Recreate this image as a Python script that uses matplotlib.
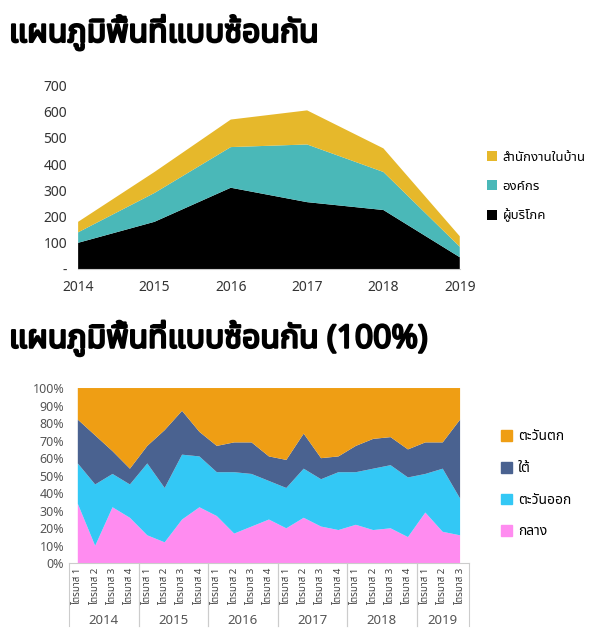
import matplotlib
matplotlib.use("Agg")
import matplotlib.pyplot as plt
import numpy as np
from matplotlib.patches import Patch
import matplotlib.patheffects as pe

plt.rcParams['font.family'] = ['Noto Sans Thai', 'Tlwg Typist', 'Loma', 'Noto Sans', 'DejaVu Sans']

years = [2014, 2015, 2016, 2017, 2018, 2019]
consumer = [100, 180, 310, 255, 225, 45]
org = [40, 110, 155, 220, 145, 40]
home = [40, 80, 105, 130, 90, 40]
top_names = ['ผู้บริโภค', 'องค์กร', 'สำนักงานในบ้าน']
top_colors = ['#000000', '#4ab8b8', '#e6b82b']

quarters = ['ไตรมาส 1', 'ไตรมาส 2', 'ไตรมาส 3', 'ไตรมาส 4']
q_years = ['2014', '2015', '2016', '2017', '2018', '2019']
q_counts = [4, 4, 4, 4, 4, 3]
central = [34, 10, 32, 26, 16, 12, 25, 32, 27, 17, 21, 25, 20, 26, 21, 19, 22, 19, 20, 15, 29, 18, 16]
east = [23, 35, 19, 19, 41, 31, 37, 29, 25, 35, 30, 22, 23, 28, 27, 33, 30, 35, 36, 34, 22, 36, 21]
south = [25, 28, 13, 9, 10, 33, 25, 14, 15, 17, 18, 14, 16, 20, 12, 9, 15, 17, 16, 16, 18, 15, 45]
west = [18, 27, 36, 46, 33, 24, 13, 25, 33, 31, 31, 39, 41, 26, 40, 39, 33, 29, 28, 35, 31, 31, 18]
bot_names = ['กลาง', 'ตะวันออก', 'ใต้', 'ตะวันตก']
bot_colors = ['#ff8cf0', '#33c8f5', '#4a6290', '#ef9e14']

fig = plt.figure(figsize=(6.01, 6.33), dpi=100)
bold = [pe.withStroke(linewidth=1.6, foreground='black')]
fig.text(0.015, 0.948, 'แผนภูมิพื้นที่แบบซ้อนกัน', fontsize=23, va='center', path_effects=bold)
fig.text(0.015, 0.465, 'แผนภูมิพื้นที่แบบซ้อนกัน (100%)', fontsize=23, va='center', path_effects=bold)

ax1 = fig.add_axes([0.13, 0.575, 0.635, 0.29])
ax1.stackplot(years, consumer, org, home, colors=top_colors, labels=top_names)
ax1.set_xlim(2014, 2019)
ax1.set_ylim(0, 700)
ax1.set_yticks(range(0, 701, 100))
ax1.set_yticklabels(['-'] + [str(v) for v in range(100, 701, 100)])
ax1.set_xticks(years)
for s in ['top', 'right', 'left']:
    ax1.spines[s].set_visible(False)
ax1.spines['bottom'].set_color('#cccccc')
ax1.tick_params(length=0, labelsize=10, colors='#333333', pad=8)
h, l = ax1.get_legend_handles_labels()
ax1.legend(h[::-1], l[::-1], loc='center left', bbox_to_anchor=(1.04, 0.45), frameon=False,
           fontsize=9.5, handlelength=0.8, handleheight=0.8, labelspacing=1.2, handletextpad=0.4)

ax2 = fig.add_axes([0.115, 0.11, 0.665, 0.277])
x = np.arange(len(central))
ax2.stackplot(x, central, east, south, west, colors=bot_colors)
ax2.set_xlim(-0.5, len(x) - 0.5)
ax2.set_ylim(0, 100)
ax2.set_yticks(range(0, 101, 10))
ax2.set_yticklabels([f'{v}%' for v in range(0, 101, 10)])
labels = []
for c in q_counts:
    labels += quarters[:c]
ax2.set_xticks(x)
ax2.set_xticklabels(labels, rotation=90, fontsize=7, color='#444444')
ax2.tick_params(axis='y', length=0, labelsize=9, colors='#555555')
ax2.tick_params(axis='x', length=0, pad=3)
for s in ['top', 'right', 'left']:
    ax2.spines[s].set_visible(False)
ax2.spines['bottom'].set_color('#cccccc')
start = 0
for yr, c in zip(q_years, q_counts):
    ax2.annotate(yr, xy=((start + start + c - 1) / 2, 0), xycoords=('data', 'axes fraction'),
                 xytext=(0, -41), textcoords='offset points', ha='center', va='center',
                 fontsize=9.5, color='#555555')
    for b in [start - 0.5, start + c - 0.5]:
        ax2.plot([b, b], [0, -0.36], color='#cccccc', lw=0.8, transform=ax2.get_xaxis_transform(), clip_on=False)
    start += c
ax2.legend([Patch(color=c) for c in bot_colors[::-1]], bot_names[::-1], loc='center left',
           bbox_to_anchor=(1.05, 0.45), frameon=False, fontsize=10, handlelength=0.8,
           handleheight=0.8, labelspacing=1.2, handletextpad=0.4)

fig.savefig('out.png', dpi=100)
